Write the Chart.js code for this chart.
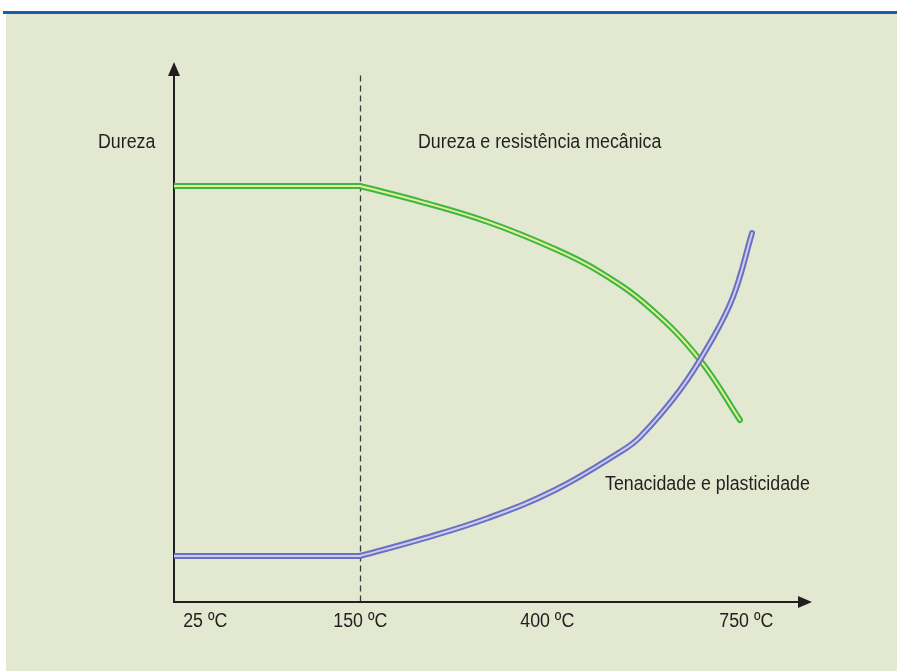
<!DOCTYPE html>
<html>
<head>
<meta charset="utf-8">
<style>
  html, body { margin: 0; padding: 0; background: #fff; }
  #wrap { width: 897px; height: 671px; position: relative; }
</style>
<script src="https://cdn.jsdelivr.net/npm/chart.js@4/dist/chart.umd.min.js"></script>
</head>
<body>
<div id="wrap"><canvas id="myChart" width="897" height="671"></canvas></div>
<script>
// x in relative position units (0 = origin, 100 = arrow tip), y in relative hardness units
let durezaX = [0, 29.15, 38.87, 49.22, 59.72, 66.77, 74.61, 82.45, 88.71];
let durezaY = [77.04, 77.04, 74.07, 70.37, 65.37, 61.11, 54.44, 44.81, 33.70];

let tenacidadeX = [0, 29.15, 38.87, 49.22, 59.72, 69.91, 73.04, 79.31, 84.01, 87.62, 90.60];
let tenacidadeY = [8.52, 8.52, 11.67, 15.56, 20.74, 27.78, 30.56, 39.26, 47.96, 56.48, 68.33];

let tickPos = [4.9, 29.2, 58.5, 89.7];
let tickLabels = ["25 ºC", "150 ºC", "400 ºC", "750 ºC"];
let dashedAt = 29.15; // 150 ºC

const FONT = '20px "Liberation Sans", sans-serif';
const SQUEEZE = 0.89;
const INK = '#231f20';

// flat part = first two points, curved part = from the 150 ºC point on
function pts(xs, ys, from, to) {
  let out = [];
  for (let i = from; i < to; i++) out.push({ x: xs[i], y: ys[i] });
  return out;
}

function squeezedText(c, txt, x, y, align) {
  c.save();
  c.translate(x, y);
  c.scale(SQUEEZE, 1);
  c.textAlign = align;
  c.fillText(txt, 0, 0);
  c.restore();
}

const drawing = {
  id: 'drawing',
  beforeDraw(chart) {
    const c = chart.ctx;
    c.save();
    c.fillStyle = '#ffffff';
    c.fillRect(0, 0, chart.width, chart.height);
    c.fillStyle = '#e3e8d1';
    c.fillRect(6, 14, chart.width - 6, chart.height - 14);
    c.fillStyle = '#1b5ea6';
    c.fillRect(3, 11, chart.width - 3, 3);

    const xs = chart.scales.x, ys = chart.scales.y;
    const left = xs.getPixelForValue(0), bottom = ys.getPixelForValue(0);
    const right = xs.getPixelForValue(100), top = ys.getPixelForValue(100);

    // dashed line at 150 ºC
    let dx = Math.round(xs.getPixelForValue(dashedAt)) + 0.5;
    c.strokeStyle = '#3a3a3a';
    c.lineWidth = 1.3;
    c.setLineDash([6, 4]);
    c.beginPath();
    c.moveTo(dx, ys.getPixelForValue(97.5));
    c.lineTo(dx, bottom);
    c.stroke();
    c.setLineDash([]);

    // axes with arrowheads
    c.strokeStyle = INK;
    c.lineWidth = 2;
    c.beginPath();
    c.moveTo(left, top + 10);
    c.lineTo(left, bottom);
    c.lineTo(right - 10, bottom);
    c.stroke();
    c.fillStyle = INK;
    c.beginPath();
    c.moveTo(left, top);
    c.lineTo(left - 6, top + 14);
    c.lineTo(left + 6, top + 14);
    c.closePath();
    c.fill();
    c.beginPath();
    c.moveTo(right, bottom);
    c.lineTo(right - 14, bottom - 6);
    c.lineTo(right - 14, bottom + 6);
    c.closePath();
    c.fill();

    // texts
    c.font = FONT;
    c.fillStyle = INK;
    c.textBaseline = 'middle';
    tickPos.forEach((p, i) => {
      squeezedText(c, tickLabels[i], xs.getPixelForValue(p), bottom + 19, 'center');
    });
    squeezedText(c, 'Dureza', 98, 142, 'left');
    squeezedText(c, 'Dureza e resistência mecânica', 418, 142, 'left');
    squeezedText(c, 'Tenacidade e plasticidade', 605, 484, 'left');
    c.restore();
  }
};

function band(xs, ys, outer, inner, order) {
  return [
    { data: pts(xs, ys, 0, 2), borderColor: outer, borderWidth: 6, tension: 0, order: order + 1 },
    { data: pts(xs, ys, 1, xs.length), borderColor: outer, borderWidth: 6, tension: 0.4, order: order + 1 },
    { data: pts(xs, ys, 0, 2), borderColor: inner, borderWidth: 2, tension: 0, order: order },
    { data: pts(xs, ys, 1, xs.length), borderColor: inner, borderWidth: 2, tension: 0.4, order: order }
  ];
}

var ctx = document.getElementById('myChart').getContext('2d');
var myChart = new Chart(ctx, {
  type: 'line',
  data: {
    datasets: [].concat(
      band(durezaX, durezaY, '#3cb54a', '#e6ef8c', 2),
      band(tenacidadeX, tenacidadeY, '#6a6fbf', '#c9cdf2', 0)
    )
  },
  options: {
    responsive: false,
    animation: false,
    events: [],
    layout: { padding: { left: 174, right: 85, top: 62, bottom: 69 } },
    elements: {
      point: { radius: 0 },
      line: { borderCapStyle: 'round', borderJoinStyle: 'round' }
    },
    scales: {
      x: { type: 'linear', min: 0, max: 100, display: false },
      y: { type: 'linear', min: 0, max: 100, display: false }
    },
    plugins: { legend: { display: false }, tooltip: { enabled: false } }
  },
  plugins: [drawing]
});
</script>
</body>
</html>
